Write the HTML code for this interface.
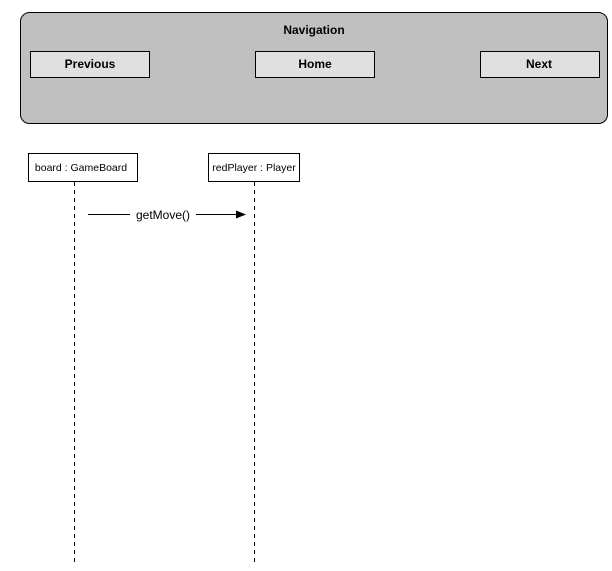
<!DOCTYPE html>
<html><head><style>body{margin:0;background:#fff}</style></head><body>
<svg width="612" height="566" xmlns="http://www.w3.org/2000/svg" font-family="Liberation Sans, sans-serif">
<rect x="20.5" y="12.5" width="587" height="111" rx="9" fill="#c0c0c0" stroke="#000"/>
<text x="314" y="34" font-size="12" font-weight="bold" text-anchor="middle">Navigation</text>
<rect x="30.5" y="51.5" width="119" height="26" fill="#e0e0e0" stroke="#000"/>
<text x="90" y="68" font-size="12" font-weight="bold" text-anchor="middle">Previous</text>
<rect x="255.5" y="51.5" width="119" height="26" fill="#e0e0e0" stroke="#000"/>
<text x="315" y="68" font-size="12" font-weight="bold" text-anchor="middle">Home</text>
<rect x="480.5" y="51.5" width="119" height="26" fill="#e0e0e0" stroke="#000"/>
<text x="539" y="68" font-size="12" font-weight="bold" text-anchor="middle">Next</text>
<rect x="28.5" y="153.5" width="109" height="28" fill="#fff" stroke="#000"/>
<text x="81" y="171" font-size="10.5" text-anchor="middle">board : GameBoard</text>
<rect x="208.5" y="153.5" width="91" height="28" fill="#fff" stroke="#000"/>
<text x="254" y="171" font-size="10.5" text-anchor="middle">redPlayer : Player</text>
<line x1="74.5" y1="182" x2="74.5" y2="562" stroke="#000" stroke-dasharray="4,4"/>
<line x1="254.5" y1="182" x2="254.5" y2="562" stroke="#000" stroke-dasharray="4,4"/>
<line x1="88" y1="214.5" x2="130" y2="214.5" stroke="#000"/>
<text x="163" y="219" font-size="12" text-anchor="middle">getMove()</text>
<line x1="196" y1="214.5" x2="238" y2="214.5" stroke="#000"/>
<polygon points="236,210.5 246,214.5 236,218.5" fill="#000"/>
</svg>
</body></html>
